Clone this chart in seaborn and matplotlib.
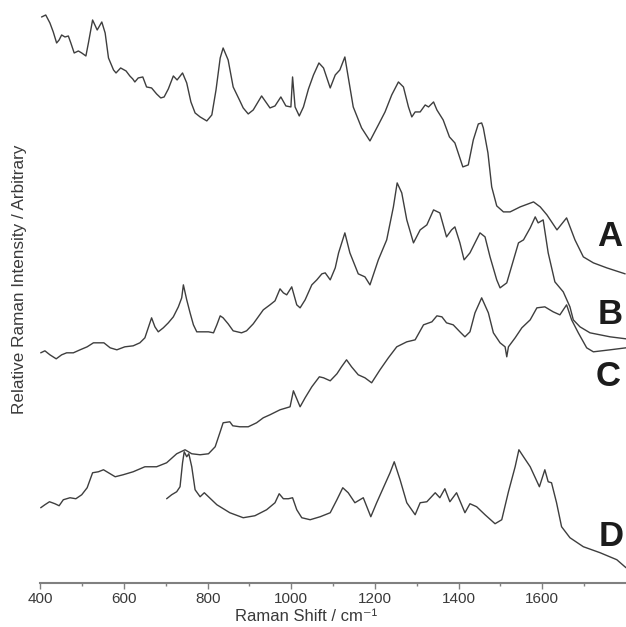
import numpy as np
import pandas as pd
import matplotlib
matplotlib.use("Agg")
import matplotlib.pyplot as plt
from matplotlib.ticker import FixedLocator
import seaborn as sns

# Raman spectra (offset stacked), shift in cm^-1, intensity in arbitrary units
A_shift = [403, 413, 423, 431, 439, 445, 451, 459, 467, 473, 481, 491, 499, 509, 515, 525, 536, 547, 555, 563,
           575, 581, 592, 605, 614, 621, 626, 634, 645, 654, 666, 678, 688, 696, 706, 718, 727, 740, 750, 760,
           770, 782, 798, 810, 820, 830, 837, 849, 861, 876, 885, 897, 909, 929, 949, 961, 975, 987, 999, 1003,
           1009, 1019, 1029, 1041, 1053, 1066, 1077, 1093, 1105, 1116, 1128, 1136, 1148, 1168, 1188, 1208, 1224,
           1240, 1256, 1268, 1280, 1288, 1296, 1308, 1320, 1328, 1340, 1348, 1363, 1378, 1391, 1410, 1423, 1435,
           1447, 1455, 1459, 1470, 1479, 1491, 1507, 1523, 1547, 1579, 1595, 1611, 1635, 1658, 1678, 1698, 1722,
           1754, 1798]
A_int = [566, 568, 560, 551, 540, 543, 548, 546, 547, 540, 530, 532, 530, 527, 540, 563, 553, 561, 550, 525,
         513, 510, 515, 512, 507, 504, 501, 505, 506, 496, 495, 489, 485, 486, 494, 507, 503, 510, 500, 481,
         470, 466, 462, 468, 493, 525, 535, 523, 496, 483, 475, 469, 473, 487, 475, 477, 486, 477, 476, 506,
         476, 467, 476, 494, 508, 520, 515, 495, 508, 513, 526, 506, 476, 455, 442, 458, 471,
         488, 501, 496, 476, 466, 471, 471, 478, 476, 481, 473, 463, 446, 440, 416, 418, 443,
         459, 460, 455, 430, 396, 377, 371, 371, 376, 381, 376, 368, 353, 365, 343, 326, 320,
         315, 309]

B_shift = [401, 411, 423, 438, 451, 463, 479, 495, 512, 527, 543, 552, 567, 583, 602, 622, 638, 650, 658, 666,
           674, 682, 694, 706, 718, 730, 738, 742, 750, 758, 766, 774, 790, 802, 814, 822, 830, 837, 849, 861,
           881, 893, 909, 933, 949, 961, 973, 981, 989, 1001, 1013, 1021, 1033, 1049, 1061, 1073, 1081, 1093,
           1105, 1113, 1128, 1140, 1160, 1176, 1188, 1208, 1228, 1244, 1253, 1264, 1276, 1292, 1308, 1324, 1340,
           1355, 1371, 1383, 1391, 1403, 1413, 1427, 1451, 1463, 1475, 1491, 1499, 1515, 1543, 1555, 1571, 1583,
           1590, 1602, 1614, 1630, 1650, 1666, 1674, 1690, 1714, 1762, 1800]
B_int = [230, 232, 228, 224, 228, 230, 230, 233, 236, 240, 240, 240, 235, 233, 236, 237, 240, 245, 255, 265,
         256, 251, 255, 260, 266, 276, 285, 298, 283, 270, 258, 251, 251, 251, 250, 258, 267, 265, 259, 252,
         250, 252, 259, 273, 278, 282, 294, 290, 288, 296, 278, 275, 283, 298, 303, 309, 310, 303,
         315, 330, 350, 330, 309, 306, 298, 323, 343, 376, 400, 390, 363, 340, 353, 358, 373,
         370, 346, 353, 356, 340, 323, 330, 350, 346, 326, 303, 295, 300, 340, 343, 355, 366,
         360, 363, 330, 301, 291, 276, 263, 256, 250, 246, 244]

C_shift = [401, 411, 422, 435, 445, 455, 471, 485, 499, 512, 525, 539, 551, 563, 579, 598, 622, 650, 678, 702,
           726, 746, 762, 782, 802, 818, 830, 837, 853, 860, 877, 897, 917, 933, 949, 973, 997, 1005, 1014, 1021,
           1033, 1049, 1067, 1077, 1093, 1109, 1120, 1132, 1144, 1160, 1176, 1192, 1212, 1232, 1252, 1276, 1296,
           1316, 1336, 1348, 1360, 1371, 1387, 1403, 1415, 1427, 1439, 1455, 1471, 1483, 1499, 1511, 1515, 1519,
           1535, 1551, 1571, 1587, 1606, 1626, 1642, 1658, 1670, 1686, 1706, 1722, 1762, 1800]
C_int = [75, 78, 81, 79, 77, 83, 85, 84, 88, 95, 110, 111, 113, 110, 106, 108, 111, 116, 116, 120,
         129, 133, 129, 128, 129, 136, 151, 160, 161, 157, 156, 156, 160, 165, 168, 173, 176, 192, 183, 176,
         185, 196, 206, 205, 202, 209, 216, 223, 216, 208, 205, 200, 213, 225, 236, 241, 243,
         258, 261, 267, 266, 260, 258, 251, 246, 251, 270, 285, 270, 250, 240, 236, 226, 236,
         245, 255, 263, 275, 276, 271, 268, 278, 263, 250, 235, 231, 233, 235]

D_shift = [702, 714, 726, 734, 740, 744, 750, 755, 762, 770, 782, 792, 802, 822, 853, 885, 913, 941, 961, 971,
           981, 993, 1003, 1013, 1025, 1045, 1069, 1093, 1109, 1123, 1136, 1152, 1172, 1190, 1204, 1220, 1236,
           1246, 1260, 1276, 1296, 1308, 1324, 1344, 1355, 1367, 1379, 1395, 1415, 1427, 1443, 1463, 1487, 1503,
           1519, 1535, 1544, 1555, 1571, 1593, 1606, 1614, 1622, 1634, 1646, 1666, 1698, 1738, 1778, 1800]
D_int = [84, 88, 91, 96, 120, 131, 126, 129, 116, 93, 86, 90, 86, 78, 70, 65, 67, 73, 80, 89,
         84, 84, 85, 73, 65, 63, 66, 70, 83, 95, 90, 80, 85, 66, 80, 95, 110,
         121, 103, 80, 68, 80, 81, 90, 85, 94, 81, 90, 70, 79, 76, 68, 59, 63,
         91, 116, 133, 126, 116, 96, 113, 101, 100, 80, 56, 45, 36, 30, 23, 15]

trace_names = ["A", "B", "C", "D"]
label_pos_shift = [1762, 1762, 1757, 1765]
label_pos_int = [346, 268, 206, 46]

x_ticks = [400, 600, 800, 1000, 1200, 1400, 1600]
x_minor = [500, 700, 900, 1100, 1300, 1500, 1700]

frames = []
for name, xs, ys in zip(trace_names, [A_shift, B_shift, C_shift, D_shift], [A_int, B_int, C_int, D_int]):
    frames.append(pd.DataFrame({"shift": xs, "intensity": ys, "trace": name}))
df = pd.concat(frames, ignore_index=True)

sns.set_theme(style="white")
plt.rcParams["font.family"] = ["Liberation Sans", "DejaVu Sans"]

line_col = "#3e3e3e"
text_col = "#3a3a3a"
axis_col = "#808080"

fig = plt.figure(figsize=(6.26, 6.27), dpi=100)
ax = fig.add_axes([40.3 / 626, (627 - 582.7) / 627, 1 - 40.3 / 626, 582.7 / 627])

sns.lineplot(data=df, x="shift", y="intensity", hue="trace", units="trace",
             palette={n: line_col for n in trace_names}, estimator=None, sort=False,
             legend=False, linewidth=1.0, ax=ax)

for name, xs, ys in zip(trace_names, label_pos_shift, label_pos_int):
    ax.text(xs, ys, name, ha="center", va="center", fontsize=25, fontweight="bold",
            color="#1c1c1c")

ax.set_xlim(400, 1800)
ax.set_ylim(0, 583)
ax.set_yticks([])
ax.xaxis.set_major_locator(FixedLocator(x_ticks))
ax.xaxis.set_minor_locator(FixedLocator(x_minor))
ax.set_xticklabels([str(t) for t in x_ticks])
for lbl in ax.get_xticklabels():
    lbl.set_family(["Liberation Sans Narrow", "Liberation Sans", "DejaVu Sans"])
ax.tick_params(axis="x", which="major", direction="out", length=4, width=1.0,
               color=axis_col, labelsize=11, labelcolor=text_col, pad=3, bottom=True)
ax.tick_params(axis="x", which="minor", direction="out", length=2.5, width=1.0,
               color=axis_col, bottom=True)

sns.despine(ax=ax, left=True, top=True, right=True)
ax.spines["bottom"].set_color(axis_col)
ax.spines["bottom"].set_linewidth(1.5)

xl = ax.set_xlabel("Raman Shift / cm\u207b\u00b9", fontsize=12, color=text_col)
xl.set_verticalalignment("baseline")
ax.xaxis.set_label_coords(0.4537, -0.0665)
ax.set_ylabel("Relative Raman Intensity / Arbitrary", fontsize=12.3, color=text_col)
ax.yaxis.set_label_coords(-0.023, 0.52)

fig.savefig("out.png", dpi=100)
